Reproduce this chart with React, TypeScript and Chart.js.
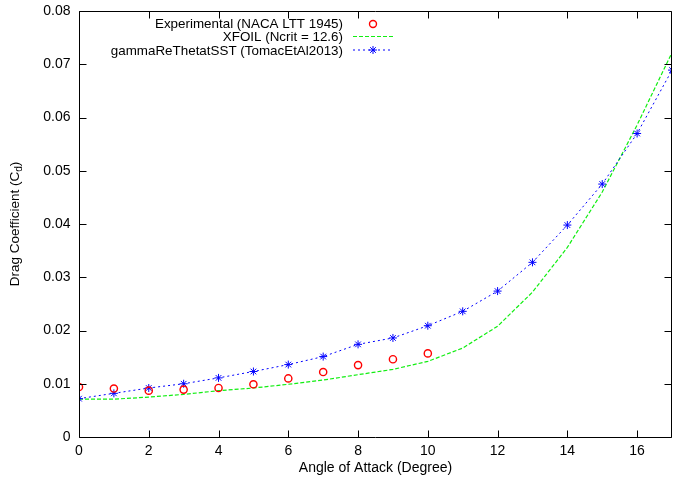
import React, { useEffect, useRef } from "react";
import { Chart, registerables } from "chart.js";

Chart.register(...registerables);

const expAngles = [0, 1, 2, 3, 4, 5, 6, 7, 8, 9, 10];
const expCd = [0.0094, 0.0091, 0.0087, 0.0089, 0.0092, 0.0099, 0.011, 0.0122, 0.0135, 0.0146, 0.0157];

const xfoilAngles = [0, 1, 2, 3, 4, 5, 6, 7, 8, 9, 10, 11, 12, 13, 14, 15, 16, 17];
const xfoilCd = [0.0071, 0.0071, 0.0075, 0.008, 0.0087, 0.0092, 0.0099, 0.0107, 0.0117, 0.0127, 0.0142, 0.0167, 0.0208, 0.0272, 0.0356, 0.046, 0.0586, 0.0722];

const sstAngles = [0, 1, 2, 3, 4, 5, 6, 7, 8, 9, 10, 11, 12, 13, 14, 15, 16, 17];
const sstCd = [0.0072, 0.0082, 0.0092, 0.01, 0.0111, 0.0123, 0.0136, 0.0151, 0.0174, 0.0186, 0.0209, 0.0236, 0.0274, 0.0328, 0.0398, 0.0475, 0.057, 0.0689];

const legendLabels = [
  "Experimental (NACA LTT 1945)",
  "XFOIL (Ncrit = 12.6)",
  "gammaReThetatSST (TomacEtAl2013)",
];
const xTitle = "Angle of Attack (Degree)";
const yTitleMain = "Drag Coefficient (C";
const yTitleSub = "d";
const yTitleEnd = ")";

const RED = "#ff0000";
const GREEN = "#11ee11";
const BLUE = "#0000ff";
const FONT = "'Liberation Sans', Arial, Helvetica, sans-serif";

const framePlugin = {
  id: "gnuFrame",
  afterDraw(chart: any) {
    const { ctx, chartArea, scales } = chart;
    const { left, right, top, bottom } = chartArea;
    const tl = 7;
    ctx.save();
    ctx.strokeStyle = "#000";
    ctx.lineWidth = 1;
    ctx.setLineDash([]);
    ctx.beginPath();
    const L = Math.round(left) + 0.5;
    const R = Math.round(right) - 0.5;
    const T = Math.round(top) + 0.5;
    const B = Math.round(bottom) + 0.5;
    ctx.moveTo(L, T);
    ctx.lineTo(R, T);
    ctx.lineTo(R, B);
    ctx.lineTo(L, B);
    ctx.closePath();
    ctx.stroke();
    ctx.beginPath();
    scales.x.ticks.forEach((t: any) => {
      const px = Math.round(scales.x.getPixelForValue(t.value)) + 0.5;
      ctx.moveTo(px, B);
      ctx.lineTo(px, B - tl);
      ctx.moveTo(px, T);
      ctx.lineTo(px, T + tl);
    });
    scales.y.ticks.forEach((t: any) => {
      const py = Math.round(scales.y.getPixelForValue(t.value)) + 0.5;
      ctx.moveTo(L, py);
      ctx.lineTo(L + tl, py);
      ctx.moveTo(R, py);
      ctx.lineTo(R - tl, py);
    });
    ctx.stroke();

    // y axis title with subscript
    ctx.fillStyle = "#000";
    const fMain = `13.5px ${FONT}`;
    const fSub = `10px ${FONT}`;
    ctx.font = fMain;
    const wMain = ctx.measureText(yTitleMain).width;
    const wClose = ctx.measureText(yTitleEnd).width;
    ctx.font = fSub;
    const wSub = ctx.measureText(yTitleSub).width;
    const total = wMain + wSub + wClose;
    ctx.translate(19, (top + bottom) / 2);
    ctx.rotate(-Math.PI / 2);
    ctx.textBaseline = "alphabetic";
    ctx.textAlign = "left";
    let x0 = -total / 2;
    ctx.font = fMain;
    ctx.fillText(yTitleMain, x0, 0);
    x0 += wMain;
    ctx.font = fSub;
    ctx.fillText(yTitleSub, x0, 3);
    x0 += wSub;
    ctx.font = fMain;
    ctx.fillText(yTitleEnd, x0, 0);
    ctx.restore();

    // legend
    ctx.save();
    ctx.font = `13.4px ${FONT}`;
    ctx.fillStyle = "#000";
    ctx.textAlign = "right";
    ctx.textBaseline = "alphabetic";
    const baselines = [28, 41.3, 54.7];
    const sy = [24, 36.5, 50];
    const textRight = 343;
    const sx0 = 353;
    const sx1 = 393;
    const sc = 373;
    legendLabels.forEach((lbl, i) => ctx.fillText(lbl, textRight, baselines[i]));
    // row 1 : circle
    ctx.strokeStyle = RED;
    ctx.lineWidth = 1.4;
    ctx.beginPath();
    ctx.arc(sc, sy[0], 3.5, 0, Math.PI * 2);
    ctx.stroke();
    // row 2 : dashed green
    ctx.strokeStyle = GREEN;
    ctx.lineWidth = 1.2;
    ctx.setLineDash([4, 2]);
    ctx.beginPath();
    ctx.moveTo(sx0, sy[1]);
    ctx.lineTo(sx1, sy[1]);
    ctx.stroke();
    // row 3 : dotted blue with star
    ctx.strokeStyle = BLUE;
    ctx.lineWidth = 1;
    ctx.setLineDash([2, 3]);
    ctx.beginPath();
    ctx.moveTo(sx0, sy[2]);
    ctx.lineTo(sx1, sy[2]);
    ctx.stroke();
    ctx.setLineDash([]);
    const r = 4;
    const d = r * 0.7071;
    ctx.beginPath();
    ctx.moveTo(sc - r, sy[2]);
    ctx.lineTo(sc + r, sy[2]);
    ctx.moveTo(sc, sy[2] - r);
    ctx.lineTo(sc, sy[2] + r);
    ctx.moveTo(sc - d, sy[2] - d);
    ctx.lineTo(sc + d, sy[2] + d);
    ctx.moveTo(sc - d, sy[2] + d);
    ctx.lineTo(sc + d, sy[2] - d);
    ctx.stroke();
    ctx.restore();
  },
};

export default function App() {
  const ref = useRef<HTMLCanvasElement | null>(null);
  useEffect(() => {
    document.body.style.margin = "0";
    const canvas = ref.current;
    if (!canvas) return;
    Chart.defaults.font.family = FONT;
    Chart.defaults.font.size = 14;
    Chart.defaults.color = "#000";
    const chart = new Chart(canvas, {
      type: "scatter",
      data: {
        datasets: [
          {
            label: legendLabels[0],
            data: expAngles.map((a, i) => ({ x: a, y: expCd[i] })),
            showLine: false,
            pointStyle: "circle",
            pointRadius: 3.6,
            pointBorderWidth: 1.4,
            borderColor: RED,
            backgroundColor: "rgba(0,0,0,0)",
            order: 1,
          },
          {
            label: legendLabels[1],
            data: xfoilAngles.map((a, i) => ({ x: a, y: xfoilCd[i] })),
            showLine: true,
            pointRadius: 0,
            borderColor: GREEN,
            borderWidth: 1.2,
            borderDash: [4, 2],
            tension: 0,
            order: 3,
          },
          {
            label: legendLabels[2],
            data: sstAngles.map((a, i) => ({ x: a, y: sstCd[i] })),
            showLine: true,
            pointStyle: "star",
            pointRadius: 4,
            pointBorderWidth: 1,
            borderColor: BLUE,
            backgroundColor: BLUE,
            borderWidth: 1,
            borderDash: [2, 3],
            tension: 0,
            order: 2,
          },
        ],
      },
      options: {
        animation: false,
        responsive: false,
        devicePixelRatio: 1,
        layout: { autoPadding: false, padding: { top: 11, right: 1, left: 0, bottom: 0 } },
        plugins: {
          legend: { display: false },
          tooltip: { enabled: false },
        },
        scales: {
          x: {
            type: "linear",
            min: 0,
            max: 17,
            grid: { display: false, drawTicks: false },
            border: { display: false },
            ticks: { stepSize: 2, includeBounds: false, padding: 6, maxRotation: 0, font: { size: 14 } },
            title: { display: true, text: xTitle, padding: { top: 0, bottom: 2 }, font: { size: 14 } },
            afterFit: (s: any) => {
              s.height = 42;
              s.paddingLeft = 0;
              s.paddingRight = 0;
            },
          },
          y: {
            type: "linear",
            min: 0,
            max: 0.08,
            grid: { display: false, drawTicks: false },
            border: { display: false },
            ticks: {
              stepSize: 0.01,
              padding: 8.5,
              font: { size: 14 },
              callback: (v: any) => (Number(v) === 0 ? "0" : Number(v).toFixed(2)),
            },
            afterFit: (s: any) => {
              s.width = 79;
              s.paddingTop = 0;
              s.paddingBottom = 0;
            },
          },
        },
      },
      plugins: [framePlugin],
    });
    return () => chart.destroy();
  }, []);
  return (
    <div style={{ width: 673, height: 479 }}>
      <canvas ref={ref} width={673} height={479} />
    </div>
  );
}
